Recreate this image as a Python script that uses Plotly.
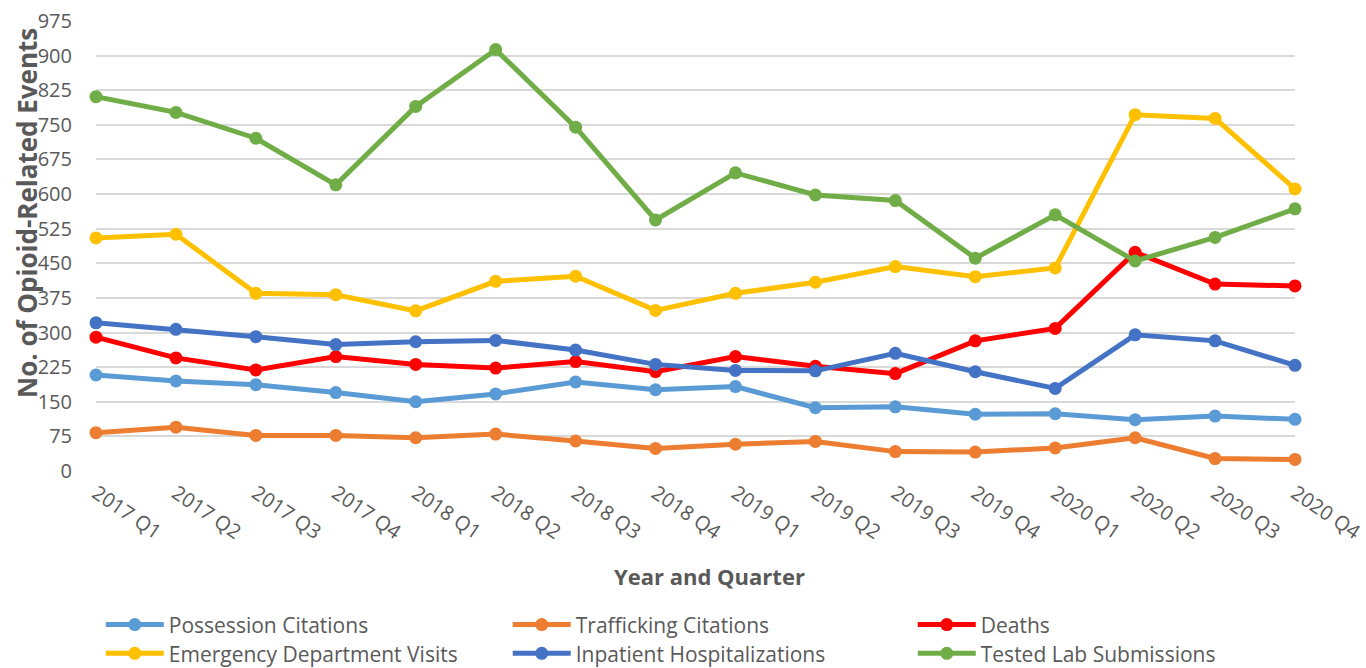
import plotly.graph_objects as go

quarters = ["2017 Q1", "2017 Q2", "2017 Q3", "2017 Q4",
            "2018 Q1", "2018 Q2", "2018 Q3", "2018 Q4",
            "2019 Q1", "2019 Q2", "2019 Q3", "2019 Q4",
            "2020 Q1", "2020 Q2", "2020 Q3", "2020 Q4"]

possession = [208, 195, 187, 170, 150, 167, 193, 176, 183, 137, 139, 123, 124, 111, 119, 112]
trafficking = [83, 95, 77, 77, 72, 80, 65, 49, 58, 64, 42, 41, 50, 72, 27, 25]
deaths = [290, 245, 219, 248, 231, 223, 237, 215, 248, 227, 211, 282, 309, 474, 405, 401]
ed_visits = [505, 513, 385, 382, 347, 411, 422, 348, 385, 409, 443, 421, 440, 772, 764, 611]
inpatient = [321, 307, 291, 274, 280, 283, 262, 231, 218, 217, 255, 215, 179, 295, 282, 229]
lab_subs = [811, 777, 721, 620, 790, 913, 745, 544, 646, 598, 586, 461, 555, 455, 506, 568]

y_ticks = list(range(0, 976, 75))

series_names = ["Possession Citations", "Trafficking Citations", "Deaths",
                "Emergency Department Visits", "Inpatient Hospitalizations",
                "Tested Lab Submissions"]
series_values = [possession, trafficking, deaths, ed_visits, inpatient, lab_subs]
series_colors = ["#5B9BD5", "#ED7D31", "#FF0000", "#FFC000", "#4472C4", "#70AD47"]

# legend grid positions (paper coords): 3 columns x 2 rows
legend_x = [0.004, 0.3434, 0.6812, 0.004, 0.3434, 0.6812]
legend_y = [-0.342, -0.342, -0.342, -0.406, -0.406, -0.406]

FONT = "Open Sans"
GREY = "#595959"

fig = go.Figure()
legend_layout = {}
for i, (name, vals, color) in enumerate(zip(series_names, series_values, series_colors)):
    lg = "legend" if i == 0 else f"legend{i + 1}"
    fig.add_trace(go.Scatter(
        x=quarters, y=vals, name=name, mode="lines+markers",
        line=dict(color=color, width=5),
        marker=dict(color=color, size=13),
        cliponaxis=False, legend=lg, showlegend=True,
    ))
    legend_layout[lg] = dict(
        x=legend_x[i], y=legend_y[i], xanchor="left", yanchor="middle",
        orientation="h", font=dict(family=FONT, size=21, color=GREY),
        itemwidth=58, bgcolor="rgba(0,0,0,0)", visible=True,
    )

fig.update_layout(
    width=1366, height=668,
    margin=dict(l=96, r=71, t=21, b=197, autoexpand=False),
    showlegend=True,
    plot_bgcolor="white", paper_bgcolor="white",
    font=dict(family=FONT, color=GREY),
    xaxis=dict(
        range=[0, 15], showgrid=False, showline=False, zeroline=False,
        tickangle=34, tickfont=dict(family=FONT, size=20, color=GREY),
        ticks="", ticklabelstandoff=6,
    ),
    yaxis=dict(
        range=[0, 975.01], tickvals=y_ticks, showgrid=True, gridcolor="#D9D9D9",
        gridwidth=1.8, zeroline=False, showline=False, ticks="",
        tickfont=dict(family=FONT, size=20, color=GREY), ticklabelstandoff=23,
    ),
    annotations=[
        dict(text="<b>No. of Opioid-Related Events</b>", textangle=-90,
             xref="paper", yref="paper", x=(27 - 96) / 1199, y=(471 - 213) / 450,
             xanchor="center", yanchor="middle", showarrow=False,
             font=dict(family=FONT, size=26, color=GREY)),
        dict(text="<b>Year and Quarter</b>",
             xref="paper", yref="paper", x=(709 - 96) / 1199, y=(471 - 576) / 450,
             xanchor="center", yanchor="middle", showarrow=False,
             font=dict(family=FONT, size=22, color=GREY)),
    ],
    **legend_layout,
)

fig.write_html(
    "out.html",
    config={"displayModeBar": False},
    post_script="document.body.style.margin='0';document.body.style.overflow='hidden';",
)
